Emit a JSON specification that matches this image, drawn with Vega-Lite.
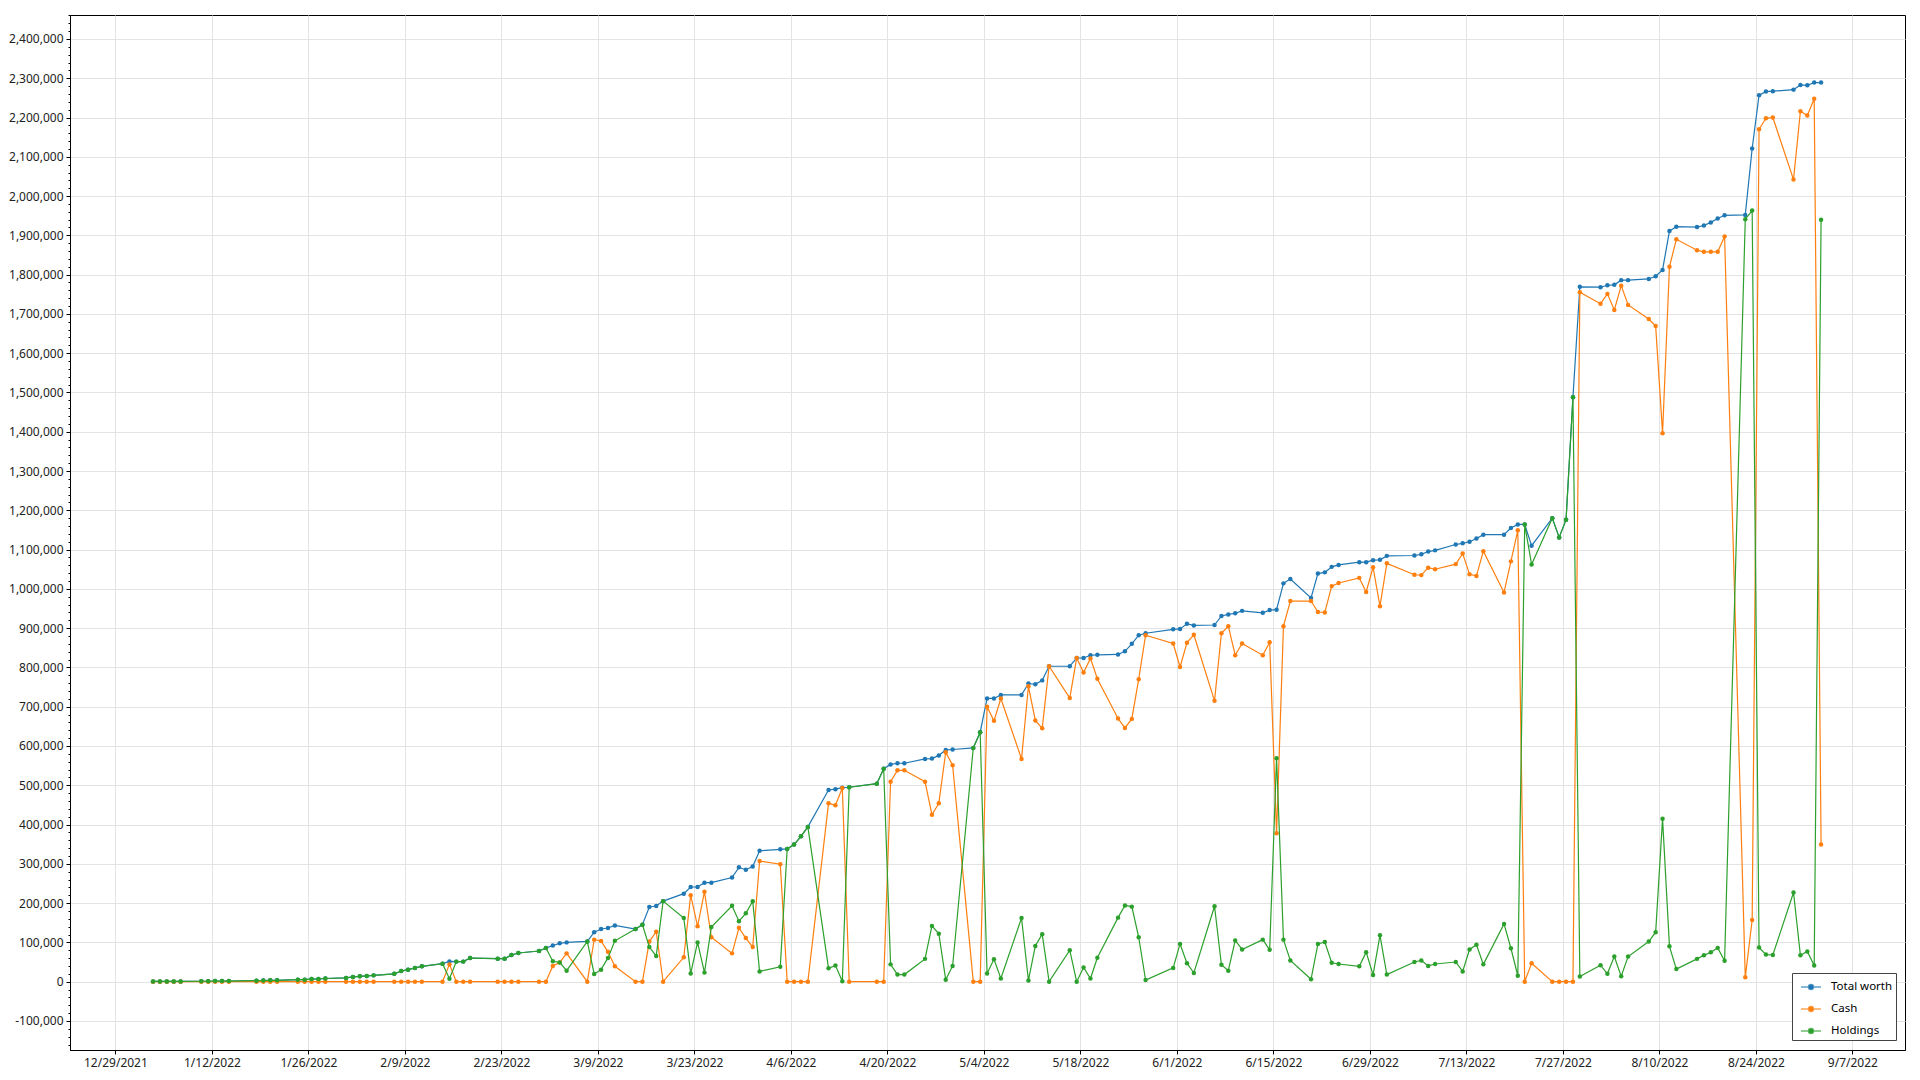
{
"$schema": "https://vega.github.io/schema/vega-lite/v6.json",
"width": 1835, "height": 1035,
"autosize": "none",
"padding": {"left": 70, "top": 15, "right": 15, "bottom": 30},
"background": "white",
"config": {"view": {"stroke": "#000", "strokeWidth": 1}, "font": "Noto Sans"},
"datasets": {
"t": [
{"d":"2022-01-03T11:00","v":500},{"d":"2022-01-04T11:00","v":500},{"d":"2022-01-05T11:00","v":500},{"d":"2022-01-06T11:00","v":500},{"d":"2022-01-07T11:00","v":500},
{"d":"2022-01-10T11:00","v":1000},{"d":"2022-01-11T11:00","v":1000},{"d":"2022-01-12T11:00","v":1500},{"d":"2022-01-13T11:00","v":1500},{"d":"2022-01-14T11:00","v":1500},
{"d":"2022-01-18T11:00","v":2500},{"d":"2022-01-19T11:00","v":3000},{"d":"2022-01-20T11:00","v":3500},{"d":"2022-01-21T11:00","v":3500},
{"d":"2022-01-24T11:00","v":5000},{"d":"2022-01-25T11:00","v":5000},{"d":"2022-01-26T11:00","v":6500},{"d":"2022-01-27T11:00","v":7000},{"d":"2022-01-28T11:00","v":8000},
{"d":"2022-01-31T11:00","v":9500},{"d":"2022-02-01T11:00","v":12000},{"d":"2022-02-02T11:00","v":13500},{"d":"2022-02-03T11:00","v":14500},{"d":"2022-02-04T11:00","v":16000},
{"d":"2022-02-07T11:00","v":20000},{"d":"2022-02-08T11:00","v":27000},{"d":"2022-02-09T11:00","v":30500},{"d":"2022-02-10T11:00","v":35000},{"d":"2022-02-11T11:00","v":39000},
{"d":"2022-02-14T11:00","v":45800},{"d":"2022-02-15T11:00","v":51500},{"d":"2022-02-16T11:00","v":51000},{"d":"2022-02-17T11:00","v":51000},{"d":"2022-02-18T11:00","v":60000},
{"d":"2022-02-22T11:00","v":58500},{"d":"2022-02-23T11:00","v":58500},{"d":"2022-02-24T11:00","v":68000},{"d":"2022-02-25T11:00","v":73000},
{"d":"2022-02-28T11:00","v":78000},{"d":"2022-03-01T11:00","v":85500},{"d":"2022-03-02T11:00","v":92000},{"d":"2022-03-03T11:00","v":97500},{"d":"2022-03-04T11:00","v":100000},
{"d":"2022-03-07T11:00","v":102500},{"d":"2022-03-08T11:00","v":126000},{"d":"2022-03-09T11:00","v":134000},{"d":"2022-03-10T11:00","v":136500},{"d":"2022-03-11T11:00","v":143000},
{"d":"2022-03-14T11:00","v":134000},{"d":"2022-03-15T11:00","v":145000},{"d":"2022-03-16T11:00","v":190000},{"d":"2022-03-17T11:00","v":192500},{"d":"2022-03-18T11:00","v":205000},
{"d":"2022-03-21T11:00","v":224000},{"d":"2022-03-22T11:00","v":241000},{"d":"2022-03-23T11:00","v":241000},{"d":"2022-03-24T11:00","v":252000},{"d":"2022-03-25T11:00","v":252000},
{"d":"2022-03-28T11:00","v":265000},{"d":"2022-03-29T11:00","v":291000},{"d":"2022-03-30T11:00","v":285000},{"d":"2022-03-31T11:00","v":293000},{"d":"2022-04-01T11:00","v":333000},
{"d":"2022-04-04T11:00","v":337000},{"d":"2022-04-05T11:00","v":338000},{"d":"2022-04-06T11:00","v":349000},{"d":"2022-04-07T11:00","v":370000},{"d":"2022-04-08T11:00","v":394000},
{"d":"2022-04-11T11:00","v":488000},{"d":"2022-04-12T11:00","v":490000},{"d":"2022-04-13T11:00","v":494000},{"d":"2022-04-14T11:00","v":495000},
{"d":"2022-04-18T11:00","v":504000},{"d":"2022-04-19T11:00","v":542000},{"d":"2022-04-20T11:00","v":553000},{"d":"2022-04-21T11:00","v":556000},{"d":"2022-04-22T11:00","v":556000},
{"d":"2022-04-25T11:00","v":567000},{"d":"2022-04-26T11:00","v":568000},{"d":"2022-04-27T11:00","v":576000},{"d":"2022-04-28T11:00","v":590000},{"d":"2022-04-29T11:00","v":591000},
{"d":"2022-05-02T11:00","v":595000},{"d":"2022-05-03T11:00","v":635000},{"d":"2022-05-04T11:00","v":721000},{"d":"2022-05-05T11:00","v":721000},{"d":"2022-05-06T11:00","v":730000},
{"d":"2022-05-09T11:00","v":730000},{"d":"2022-05-10T11:00","v":759000},{"d":"2022-05-11T11:00","v":757000},{"d":"2022-05-12T11:00","v":767000},{"d":"2022-05-13T11:00","v":803000},
{"d":"2022-05-16T11:00","v":803000},{"d":"2022-05-17T11:00","v":824000},{"d":"2022-05-18T11:00","v":824000},{"d":"2022-05-19T11:00","v":831000},{"d":"2022-05-20T11:00","v":832000},
{"d":"2022-05-23T11:00","v":833000},{"d":"2022-05-24T11:00","v":841000},{"d":"2022-05-25T11:00","v":860000},{"d":"2022-05-26T11:00","v":882000},{"d":"2022-05-27T11:00","v":887000},
{"d":"2022-05-31T11:00","v":897000},{"d":"2022-06-01T11:00","v":898000},{"d":"2022-06-02T11:00","v":911000},{"d":"2022-06-03T11:00","v":907000},
{"d":"2022-06-06T11:00","v":908000},{"d":"2022-06-07T11:00","v":931000},{"d":"2022-06-08T11:00","v":935000},{"d":"2022-06-09T11:00","v":938000},{"d":"2022-06-10T11:00","v":944000},
{"d":"2022-06-13T11:00","v":939000},{"d":"2022-06-14T11:00","v":946000},{"d":"2022-06-15T11:00","v":947000},{"d":"2022-06-16T11:00","v":1014000},{"d":"2022-06-17T11:00","v":1025000},
{"d":"2022-06-20T11:00","v":977000},{"d":"2022-06-21T11:00","v":1039000},{"d":"2022-06-22T11:00","v":1042000},{"d":"2022-06-23T11:00","v":1056000},{"d":"2022-06-24T11:00","v":1061000},
{"d":"2022-06-27T11:00","v":1068000},{"d":"2022-06-28T11:00","v":1068000},{"d":"2022-06-29T11:00","v":1073000},{"d":"2022-06-30T11:00","v":1074000},{"d":"2022-07-01T11:00","v":1084000},
{"d":"2022-07-05T11:00","v":1085000},{"d":"2022-07-06T11:00","v":1088000},{"d":"2022-07-07T11:00","v":1095000},{"d":"2022-07-08T11:00","v":1098000},
{"d":"2022-07-11T11:00","v":1113000},{"d":"2022-07-12T11:00","v":1116000},{"d":"2022-07-13T11:00","v":1120000},{"d":"2022-07-14T11:00","v":1128000},{"d":"2022-07-15T11:00","v":1138000},
{"d":"2022-07-18T11:00","v":1138000},{"d":"2022-07-19T11:00","v":1155000},{"d":"2022-07-20T11:00","v":1164000},{"d":"2022-07-21T11:00","v":1164000},{"d":"2022-07-22T11:00","v":1110000},
{"d":"2022-07-25T11:00","v":1180000},{"d":"2022-07-26T11:00","v":1131000},{"d":"2022-07-27T11:00","v":1176000},{"d":"2022-07-28T11:00","v":1488000},{"d":"2022-07-29T11:00","v":1769000},
{"d":"2022-08-01T11:00","v":1768000},{"d":"2022-08-02T11:00","v":1773000},{"d":"2022-08-03T11:00","v":1774000},{"d":"2022-08-04T11:00","v":1786000},{"d":"2022-08-05T11:00","v":1786000},
{"d":"2022-08-08T11:00","v":1789000},{"d":"2022-08-09T11:00","v":1796000},{"d":"2022-08-10T11:00","v":1812000},{"d":"2022-08-11T11:00","v":1911000},{"d":"2022-08-12T11:00","v":1922000},
{"d":"2022-08-15T11:00","v":1921000},{"d":"2022-08-16T11:00","v":1925000},{"d":"2022-08-17T11:00","v":1933000},{"d":"2022-08-18T11:00","v":1943000},{"d":"2022-08-19T11:00","v":1951000},
{"d":"2022-08-22T11:00","v":1952000},{"d":"2022-08-23T11:00","v":2121000},{"d":"2022-08-24T11:00","v":2257000},{"d":"2022-08-25T11:00","v":2266000},{"d":"2022-08-26T11:00","v":2267000},
{"d":"2022-08-29T11:00","v":2271000},{"d":"2022-08-30T11:00","v":2283000},{"d":"2022-08-31T11:00","v":2282000},{"d":"2022-09-01T11:00","v":2289000},{"d":"2022-09-02T11:00","v":2289000}
],
"c": [
{"d":"2022-01-03T11:00","v":0},{"d":"2022-01-04T11:00","v":0},{"d":"2022-01-05T11:00","v":0},{"d":"2022-01-06T11:00","v":0},{"d":"2022-01-07T11:00","v":0},
{"d":"2022-01-10T11:00","v":0},{"d":"2022-01-11T11:00","v":0},{"d":"2022-01-12T11:00","v":0},{"d":"2022-01-13T11:00","v":0},{"d":"2022-01-14T11:00","v":0},
{"d":"2022-01-18T11:00","v":0},{"d":"2022-01-19T11:00","v":0},{"d":"2022-01-20T11:00","v":0},{"d":"2022-01-21T11:00","v":0},
{"d":"2022-01-24T11:00","v":0},{"d":"2022-01-25T11:00","v":0},{"d":"2022-01-26T11:00","v":0},{"d":"2022-01-27T11:00","v":0},{"d":"2022-01-28T11:00","v":0},
{"d":"2022-01-31T11:00","v":0},{"d":"2022-02-01T11:00","v":0},{"d":"2022-02-02T11:00","v":0},{"d":"2022-02-03T11:00","v":0},{"d":"2022-02-04T11:00","v":0},
{"d":"2022-02-07T11:00","v":0},{"d":"2022-02-08T11:00","v":0},{"d":"2022-02-09T11:00","v":0},{"d":"2022-02-10T11:00","v":0},{"d":"2022-02-11T11:00","v":0},
{"d":"2022-02-14T11:00","v":0},{"d":"2022-02-15T11:00","v":44000},{"d":"2022-02-16T11:00","v":0},{"d":"2022-02-17T11:00","v":0},{"d":"2022-02-18T11:00","v":0},
{"d":"2022-02-22T11:00","v":0},{"d":"2022-02-23T11:00","v":0},{"d":"2022-02-24T11:00","v":0},{"d":"2022-02-25T11:00","v":0},
{"d":"2022-02-28T11:00","v":0},{"d":"2022-03-01T11:00","v":0},{"d":"2022-03-02T11:00","v":40000},{"d":"2022-03-03T11:00","v":48500},{"d":"2022-03-04T11:00","v":72000},
{"d":"2022-03-07T11:00","v":0},{"d":"2022-03-08T11:00","v":107000},{"d":"2022-03-09T11:00","v":103500},{"d":"2022-03-10T11:00","v":76000},{"d":"2022-03-11T11:00","v":39000},
{"d":"2022-03-14T11:00","v":0},{"d":"2022-03-15T11:00","v":0},{"d":"2022-03-16T11:00","v":102000},{"d":"2022-03-17T11:00","v":127000},{"d":"2022-03-18T11:00","v":0},
{"d":"2022-03-21T11:00","v":62000},{"d":"2022-03-22T11:00","v":220000},{"d":"2022-03-23T11:00","v":141000},{"d":"2022-03-24T11:00","v":229000},{"d":"2022-03-25T11:00","v":113000},
{"d":"2022-03-28T11:00","v":72000},{"d":"2022-03-29T11:00","v":137000},{"d":"2022-03-30T11:00","v":111000},{"d":"2022-03-31T11:00","v":88000},{"d":"2022-04-01T11:00","v":307000},
{"d":"2022-04-04T11:00","v":299000},{"d":"2022-04-05T11:00","v":0},{"d":"2022-04-06T11:00","v":0},{"d":"2022-04-07T11:00","v":0},{"d":"2022-04-08T11:00","v":0},
{"d":"2022-04-11T11:00","v":454000},{"d":"2022-04-12T11:00","v":449000},{"d":"2022-04-13T11:00","v":493000},{"d":"2022-04-14T11:00","v":0},
{"d":"2022-04-18T11:00","v":0},{"d":"2022-04-19T11:00","v":0},{"d":"2022-04-20T11:00","v":509000},{"d":"2022-04-21T11:00","v":538000},{"d":"2022-04-22T11:00","v":538000},
{"d":"2022-04-25T11:00","v":509000},{"d":"2022-04-26T11:00","v":425000},{"d":"2022-04-27T11:00","v":454000},{"d":"2022-04-28T11:00","v":584000},{"d":"2022-04-29T11:00","v":551000},
{"d":"2022-05-02T11:00","v":0},{"d":"2022-05-03T11:00","v":0},{"d":"2022-05-04T11:00","v":700000},{"d":"2022-05-05T11:00","v":664000},{"d":"2022-05-06T11:00","v":721000},
{"d":"2022-05-09T11:00","v":567000},{"d":"2022-05-10T11:00","v":752000},{"d":"2022-05-11T11:00","v":665000},{"d":"2022-05-12T11:00","v":645000},{"d":"2022-05-13T11:00","v":803000},
{"d":"2022-05-16T11:00","v":722000},{"d":"2022-05-17T11:00","v":824000},{"d":"2022-05-18T11:00","v":787000},{"d":"2022-05-19T11:00","v":823000},{"d":"2022-05-20T11:00","v":771000},
{"d":"2022-05-23T11:00","v":670000},{"d":"2022-05-24T11:00","v":646000},{"d":"2022-05-25T11:00","v":669000},{"d":"2022-05-26T11:00","v":770000},{"d":"2022-05-27T11:00","v":882000},
{"d":"2022-05-31T11:00","v":861000},{"d":"2022-06-01T11:00","v":801000},{"d":"2022-06-02T11:00","v":863000},{"d":"2022-06-03T11:00","v":883000},
{"d":"2022-06-06T11:00","v":715000},{"d":"2022-06-07T11:00","v":887000},{"d":"2022-06-08T11:00","v":905000},{"d":"2022-06-09T11:00","v":831000},{"d":"2022-06-10T11:00","v":861000},
{"d":"2022-06-13T11:00","v":831000},{"d":"2022-06-14T11:00","v":864000},{"d":"2022-06-15T11:00","v":378000},{"d":"2022-06-16T11:00","v":905000},{"d":"2022-06-17T11:00","v":969000},
{"d":"2022-06-20T11:00","v":969000},{"d":"2022-06-21T11:00","v":941000},{"d":"2022-06-22T11:00","v":940000},{"d":"2022-06-23T11:00","v":1007000},{"d":"2022-06-24T11:00","v":1015000},
{"d":"2022-06-27T11:00","v":1028000},{"d":"2022-06-28T11:00","v":992000},{"d":"2022-06-29T11:00","v":1055000},{"d":"2022-06-30T11:00","v":956000},{"d":"2022-07-01T11:00","v":1065000},
{"d":"2022-07-05T11:00","v":1036000},{"d":"2022-07-06T11:00","v":1035000},{"d":"2022-07-07T11:00","v":1054000},{"d":"2022-07-08T11:00","v":1050000},
{"d":"2022-07-11T11:00","v":1063000},{"d":"2022-07-12T11:00","v":1090000},{"d":"2022-07-13T11:00","v":1037000},{"d":"2022-07-14T11:00","v":1033000},{"d":"2022-07-15T11:00","v":1096000},
{"d":"2022-07-18T11:00","v":991000},{"d":"2022-07-19T11:00","v":1070000},{"d":"2022-07-20T11:00","v":1149000},{"d":"2022-07-21T11:00","v":0},{"d":"2022-07-22T11:00","v":47000},
{"d":"2022-07-25T11:00","v":0},{"d":"2022-07-26T11:00","v":0},{"d":"2022-07-27T11:00","v":0},{"d":"2022-07-28T11:00","v":0},{"d":"2022-07-29T11:00","v":1755000},
{"d":"2022-08-01T11:00","v":1726000},{"d":"2022-08-02T11:00","v":1751000},{"d":"2022-08-03T11:00","v":1710000},{"d":"2022-08-04T11:00","v":1772000},{"d":"2022-08-05T11:00","v":1723000},
{"d":"2022-08-08T11:00","v":1687000},{"d":"2022-08-09T11:00","v":1669000},{"d":"2022-08-10T11:00","v":1396000},{"d":"2022-08-11T11:00","v":1820000},{"d":"2022-08-12T11:00","v":1890000},
{"d":"2022-08-15T11:00","v":1862000},{"d":"2022-08-16T11:00","v":1858000},{"d":"2022-08-17T11:00","v":1858000},{"d":"2022-08-18T11:00","v":1858000},{"d":"2022-08-19T11:00","v":1897000},
{"d":"2022-08-22T11:00","v":11000},{"d":"2022-08-23T11:00","v":157000},{"d":"2022-08-24T11:00","v":2170000},{"d":"2022-08-25T11:00","v":2198000},{"d":"2022-08-26T11:00","v":2200000},
{"d":"2022-08-29T11:00","v":2042000},{"d":"2022-08-30T11:00","v":2216000},{"d":"2022-08-31T11:00","v":2205000},{"d":"2022-09-01T11:00","v":2248000},{"d":"2022-09-02T11:00","v":349000}
],
"h": [
{"d":"2022-01-03T11:00","v":500},{"d":"2022-01-04T11:00","v":500},{"d":"2022-01-05T11:00","v":500},{"d":"2022-01-06T11:00","v":500},{"d":"2022-01-07T11:00","v":500},
{"d":"2022-01-10T11:00","v":1000},{"d":"2022-01-11T11:00","v":1000},{"d":"2022-01-12T11:00","v":1500},{"d":"2022-01-13T11:00","v":1500},{"d":"2022-01-14T11:00","v":1500},
{"d":"2022-01-18T11:00","v":2500},{"d":"2022-01-19T11:00","v":3000},{"d":"2022-01-20T11:00","v":3500},{"d":"2022-01-21T11:00","v":3500},
{"d":"2022-01-24T11:00","v":5000},{"d":"2022-01-25T11:00","v":5000},{"d":"2022-01-26T11:00","v":6500},{"d":"2022-01-27T11:00","v":7000},{"d":"2022-01-28T11:00","v":8000},
{"d":"2022-01-31T11:00","v":9500},{"d":"2022-02-01T11:00","v":12000},{"d":"2022-02-02T11:00","v":13500},{"d":"2022-02-03T11:00","v":14500},{"d":"2022-02-04T11:00","v":16000},
{"d":"2022-02-07T11:00","v":20000},{"d":"2022-02-08T11:00","v":27000},{"d":"2022-02-09T11:00","v":30500},{"d":"2022-02-10T11:00","v":35000},{"d":"2022-02-11T11:00","v":39000},
{"d":"2022-02-14T11:00","v":45800},{"d":"2022-02-15T11:00","v":7500},{"d":"2022-02-16T11:00","v":51000},{"d":"2022-02-17T11:00","v":51000},{"d":"2022-02-18T11:00","v":60000},
{"d":"2022-02-22T11:00","v":58500},{"d":"2022-02-23T11:00","v":58500},{"d":"2022-02-24T11:00","v":68000},{"d":"2022-02-25T11:00","v":73000},
{"d":"2022-02-28T11:00","v":78000},{"d":"2022-03-01T11:00","v":85500},{"d":"2022-03-02T11:00","v":52000},{"d":"2022-03-03T11:00","v":49000},{"d":"2022-03-04T11:00","v":28000},
{"d":"2022-03-07T11:00","v":102500},{"d":"2022-03-08T11:00","v":19500},{"d":"2022-03-09T11:00","v":30500},{"d":"2022-03-10T11:00","v":60500},{"d":"2022-03-11T11:00","v":104000},
{"d":"2022-03-14T11:00","v":134000},{"d":"2022-03-15T11:00","v":145000},{"d":"2022-03-16T11:00","v":88000},{"d":"2022-03-17T11:00","v":65500},{"d":"2022-03-18T11:00","v":205000},
{"d":"2022-03-21T11:00","v":162000},{"d":"2022-03-22T11:00","v":21000},{"d":"2022-03-23T11:00","v":100000},{"d":"2022-03-24T11:00","v":23000},{"d":"2022-03-25T11:00","v":139000},
{"d":"2022-03-28T11:00","v":193000},{"d":"2022-03-29T11:00","v":154000},{"d":"2022-03-30T11:00","v":174000},{"d":"2022-03-31T11:00","v":205000},{"d":"2022-04-01T11:00","v":26000},
{"d":"2022-04-04T11:00","v":38000},{"d":"2022-04-05T11:00","v":338000},{"d":"2022-04-06T11:00","v":349000},{"d":"2022-04-07T11:00","v":370000},{"d":"2022-04-08T11:00","v":394000},
{"d":"2022-04-11T11:00","v":34000},{"d":"2022-04-12T11:00","v":41000},{"d":"2022-04-13T11:00","v":1000},{"d":"2022-04-14T11:00","v":495000},
{"d":"2022-04-18T11:00","v":504000},{"d":"2022-04-19T11:00","v":542000},{"d":"2022-04-20T11:00","v":44000},{"d":"2022-04-21T11:00","v":18000},{"d":"2022-04-22T11:00","v":18000},
{"d":"2022-04-25T11:00","v":58000},{"d":"2022-04-26T11:00","v":142000},{"d":"2022-04-27T11:00","v":122000},{"d":"2022-04-28T11:00","v":5000},{"d":"2022-04-29T11:00","v":40000},
{"d":"2022-05-02T11:00","v":595000},{"d":"2022-05-03T11:00","v":635000},{"d":"2022-05-04T11:00","v":21000},{"d":"2022-05-05T11:00","v":57000},{"d":"2022-05-06T11:00","v":8000},
{"d":"2022-05-09T11:00","v":162000},{"d":"2022-05-10T11:00","v":3000},{"d":"2022-05-11T11:00","v":91000},{"d":"2022-05-12T11:00","v":121000},{"d":"2022-05-13T11:00","v":0},
{"d":"2022-05-16T11:00","v":80000},{"d":"2022-05-17T11:00","v":0},{"d":"2022-05-18T11:00","v":36000},{"d":"2022-05-19T11:00","v":8000},{"d":"2022-05-20T11:00","v":61000},
{"d":"2022-05-23T11:00","v":163000},{"d":"2022-05-24T11:00","v":194000},{"d":"2022-05-25T11:00","v":191000},{"d":"2022-05-26T11:00","v":113000},{"d":"2022-05-27T11:00","v":4000},
{"d":"2022-05-31T11:00","v":35000},{"d":"2022-06-01T11:00","v":96000},{"d":"2022-06-02T11:00","v":47000},{"d":"2022-06-03T11:00","v":22000},
{"d":"2022-06-06T11:00","v":192000},{"d":"2022-06-07T11:00","v":43000},{"d":"2022-06-08T11:00","v":28000},{"d":"2022-06-09T11:00","v":105000},{"d":"2022-06-10T11:00","v":82000},
{"d":"2022-06-13T11:00","v":107000},{"d":"2022-06-14T11:00","v":81000},{"d":"2022-06-15T11:00","v":569000},{"d":"2022-06-16T11:00","v":107000},{"d":"2022-06-17T11:00","v":54000},
{"d":"2022-06-20T11:00","v":6000},{"d":"2022-06-21T11:00","v":96000},{"d":"2022-06-22T11:00","v":101000},{"d":"2022-06-23T11:00","v":48000},{"d":"2022-06-24T11:00","v":45000},
{"d":"2022-06-27T11:00","v":39000},{"d":"2022-06-28T11:00","v":75000},{"d":"2022-06-29T11:00","v":17000},{"d":"2022-06-30T11:00","v":118000},{"d":"2022-07-01T11:00","v":18000},
{"d":"2022-07-05T11:00","v":50000},{"d":"2022-07-06T11:00","v":54000},{"d":"2022-07-07T11:00","v":40000},{"d":"2022-07-08T11:00","v":45000},
{"d":"2022-07-11T11:00","v":50000},{"d":"2022-07-12T11:00","v":26000},{"d":"2022-07-13T11:00","v":82000},{"d":"2022-07-14T11:00","v":94000},{"d":"2022-07-15T11:00","v":44000},
{"d":"2022-07-18T11:00","v":147000},{"d":"2022-07-19T11:00","v":85000},{"d":"2022-07-20T11:00","v":15000},{"d":"2022-07-21T11:00","v":1164000},{"d":"2022-07-22T11:00","v":1062000},
{"d":"2022-07-25T11:00","v":1180000},{"d":"2022-07-26T11:00","v":1131000},{"d":"2022-07-27T11:00","v":1176000},{"d":"2022-07-28T11:00","v":1488000},{"d":"2022-07-29T11:00","v":13000},
{"d":"2022-08-01T11:00","v":42000},{"d":"2022-08-02T11:00","v":20000},{"d":"2022-08-03T11:00","v":64000},{"d":"2022-08-04T11:00","v":14000},{"d":"2022-08-05T11:00","v":64000},
{"d":"2022-08-08T11:00","v":102000},{"d":"2022-08-09T11:00","v":126000},{"d":"2022-08-10T11:00","v":415000},{"d":"2022-08-11T11:00","v":90000},{"d":"2022-08-12T11:00","v":32000},
{"d":"2022-08-15T11:00","v":58000},{"d":"2022-08-16T11:00","v":67000},{"d":"2022-08-17T11:00","v":75000},{"d":"2022-08-18T11:00","v":86000},{"d":"2022-08-19T11:00","v":53000},
{"d":"2022-08-22T11:00","v":1941000},{"d":"2022-08-23T11:00","v":1963000},{"d":"2022-08-24T11:00","v":87000},{"d":"2022-08-25T11:00","v":69000},{"d":"2022-08-26T11:00","v":68000},
{"d":"2022-08-29T11:00","v":227000},{"d":"2022-08-30T11:00","v":67000},{"d":"2022-08-31T11:00","v":77000},{"d":"2022-09-01T11:00","v":41000},{"d":"2022-09-02T11:00","v":1940000}
]
},
"encoding": {
"x": {"field": "d", "type": "temporal",
 "scale": {"domain": [{"year":2021,"month":12,"date":22,"hours":9,"minutes":50},{"year":2022,"month":9,"date":14,"hours":15,"minutes":10}], "nice": false},
 "axis": {"title": null, "format": "%-m/%-d/%Y", "labelFontSize": 12, "labelFont": "Noto Sans", "labelColor": "#222", "labelPadding": 3, "tickSize": 4, "tickColor": "#000", "domainColor": "#000", "gridColor": "#e3e3e3", "labelFlush": false, "labelOverlap": false,
  "values": [{"year":2021,"month":12,"date":29},{"year":2022,"month":1,"date":12},{"year":2022,"month":1,"date":26},{"year":2022,"month":2,"date":9},{"year":2022,"month":2,"date":23},{"year":2022,"month":3,"date":9},{"year":2022,"month":3,"date":23},{"year":2022,"month":4,"date":6},{"year":2022,"month":4,"date":20},{"year":2022,"month":5,"date":4},{"year":2022,"month":5,"date":18},{"year":2022,"month":6,"date":1},{"year":2022,"month":6,"date":15},{"year":2022,"month":6,"date":29},{"year":2022,"month":7,"date":13},{"year":2022,"month":7,"date":27},{"year":2022,"month":8,"date":10},{"year":2022,"month":8,"date":24},{"year":2022,"month":9,"date":7}]}}
},
"layer": [
{"data": {"name": "t"},
 "mark": {"type": "line", "strokeWidth": 1.2, "point": {"filled": true, "size": 20}},
 "encoding": {
  "y": {"field": "v", "type": "quantitative", "scale": {"domain": [-174000, 2461000], "nice": false, "zero": false},
   "axis": {"title": null, "orient": "left", "labelFontSize": 12, "labelFont": "Noto Sans", "labelColor": "#222", "labelPadding": 3, "tickSize": 4, "tickColor": "#000", "domainColor": "#000", "gridColor": "#e3e3e3",
    "labelExpr": "datum.value < 0 ? '-' + format(-datum.value, ',') : format(datum.value, ',')",
    "values": [-100000,0,100000,200000,300000,400000,500000,600000,700000,800000,900000,1000000,1100000,1200000,1300000,1400000,1500000,1600000,1700000,1800000,1900000,2000000,2100000,2200000,2300000,2400000]}},
  "color": {"datum": "Total worth", "type": "nominal",
   "scale": {"domain": ["Total worth", "Cash", "Holdings"], "range": ["#1f77b4", "#ff7f0e", "#2ca02c"]},
   "legend": {"title": null, "orient": "none", "legendX": 1722, "legendY": 958, "strokeColor": "#444", "fillColor": "#ffffff", "padding": 3, "rowPadding": 5, "labelFontSize": 11.5, "labelFont": "Noto Sans", "labelColor": "#000", "labelOffset": 9, "symbolOffset": 5,
    "symbolType": "M-1,0H1M-0.25,0A0.25,0.25 0 1,0 0.25,0A0.25,0.25 0 1,0 -0.25,0", "symbolSize": 400, "symbolStrokeWidth": 1.5,
    "encode": {"symbols": {"update": {"fill": {"scale": "color", "field": "value"}, "stroke": {"scale": "color", "field": "value"}, "fillOpacity": {"value": 1}, "strokeOpacity": {"value": 0.7}}}}}}
 }},
{"data": {"name": "c"},
 "mark": {"type": "line", "strokeWidth": 1.2, "point": {"filled": true, "size": 20}},
 "encoding": {
  "y": {"field": "v", "type": "quantitative", "scale": {"domain": [-174000, 2461000], "nice": false, "zero": false},
   "axis": {"orient": "left", "title": null, "labels": false, "grid": false, "domain": false, "tickSize": 2, "tickColor": "#000",
    "values": [-160000,-140000,-120000,-100000,-80000,-60000,-40000,-20000,0,20000,40000,60000,80000,100000,120000,140000,160000,180000,200000,220000,240000,260000,280000,300000,320000,340000,360000,380000,400000,420000,440000,460000,480000,500000,520000,540000,560000,580000,600000,620000,640000,660000,680000,700000,720000,740000,760000,780000,800000,820000,840000,860000,880000,900000,920000,940000,960000,980000,1000000,1020000,1040000,1060000,1080000,1100000,1120000,1140000,1160000,1180000,1200000,1220000,1240000,1260000,1280000,1300000,1320000,1340000,1360000,1380000,1400000,1420000,1440000,1460000,1480000,1500000,1520000,1540000,1560000,1580000,1600000,1620000,1640000,1660000,1680000,1700000,1720000,1740000,1760000,1780000,1800000,1820000,1840000,1860000,1880000,1900000,1920000,1940000,1960000,1980000,2000000,2020000,2040000,2060000,2080000,2100000,2120000,2140000,2160000,2180000,2200000,2220000,2240000,2260000,2280000,2300000,2320000,2340000,2360000,2380000,2400000,2420000,2440000,2460000]}},
  "color": {"datum": "Cash", "type": "nominal"}
 }},
{"data": {"name": "h"},
 "mark": {"type": "line", "strokeWidth": 1.2, "point": {"filled": true, "size": 20}},
 "encoding": {
  "y": {"field": "v", "type": "quantitative", "scale": {"domain": [-174000, 2461000], "nice": false, "zero": false}, "axis": null},
  "color": {"datum": "Holdings", "type": "nominal"}
 }}
],
"resolve": {"axis": {"y": "independent"}}
}
